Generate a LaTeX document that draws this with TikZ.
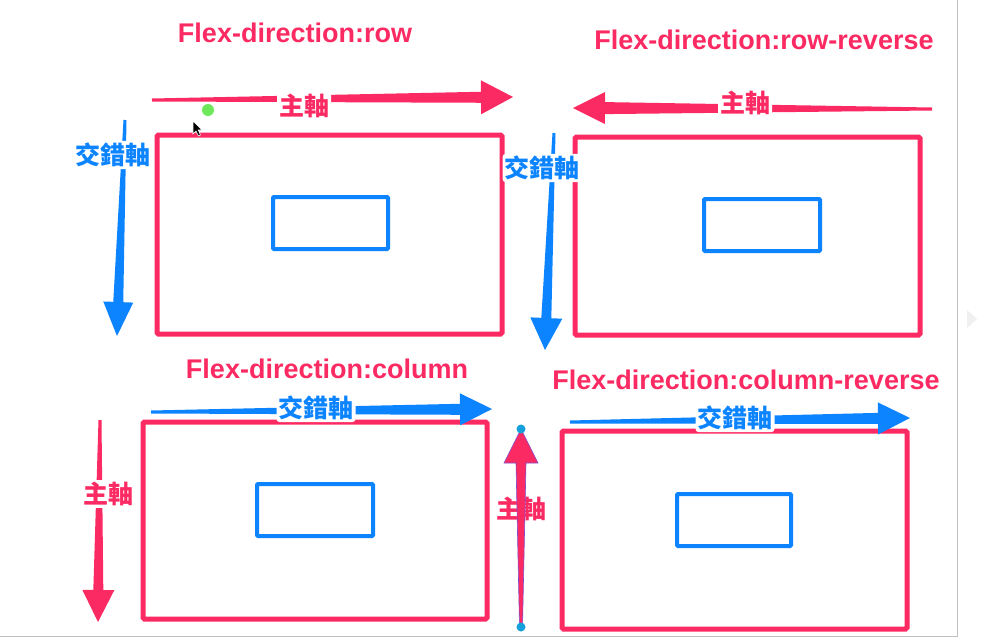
\documentclass[tikz,border=0pt]{standalone}
\usepackage{fontspec}
\setmainfont{Liberation Sans}
\newfontfamily\cjkfont{Noto Sans CJK TC}
\usetikzlibrary{calc}
\definecolor{axred}{RGB}{252,42,98}
\definecolor{axblue}{RGB}{12,132,255}
\definecolor{dotgreen}{RGB}{110,232,90}
\definecolor{dotcyan}{RGB}{20,160,220}
\tikzset{
  outerbox/.style={draw=axred, line width=5pt, rounded corners=1.5pt},
  innerbox/.style={draw=axblue, line width=4pt, rounded corners=1pt},
  ttl/.style={font=\fontsize{27}{30}\selectfont\bfseries, inner sep=0pt, text=axred},
  lab/.style={font=\fontsize{25}{28}\selectfont\cjkfont\bfseries, inner sep=2pt,
    fill=white, rounded corners=3pt},
  mainlab/.style={lab, text=axred},
  crosslab/.style={lab, text=axblue},
  redarrow/.style={fill=axred},
  bluearrow/.style={fill=axblue},
}
% #1 style, #2 tail, #3 tip, #4 tail half width, #5 shaft half width, #6 head half width, #7 head length
\newcommand\taper[7]{%
  \coordinate (hb) at ($(#3)!#7pt!(#2)$);
  \path[#1] ($(#2)!#4pt!90:(#3)$) -- ($(hb)!#5pt!90:(#3)$) -- ($(hb)!#6pt!90:(#3)$)
    -- (#3) -- ($(hb)!#6pt!-90:(#3)$) -- ($(hb)!#5pt!-90:(#3)$) -- ($(#2)!#4pt!-90:(#3)$) -- cycle;
}
\begin{document}
\begin{tikzpicture}[x=1pt,y=-1pt]
\useasboundingbox (0,0) rectangle (994,638);
\fill[white] (0,0) rectangle (994,638);
% window frame remnants
\draw[black!25, line width=1pt] (957,0) -- (957,636) -- (0,636);
\fill[black!6] (967,310) -- (977,319) -- (967,328) -- cycle;

% ---------- boxes ----------
\draw[outerbox] (157,135) rectangle (502,334);
\draw[innerbox] (273,197) rectangle (388,249);
\draw[outerbox] (575,137) rectangle (920,335);
\draw[innerbox] (704,199) rectangle (820,251);
\draw[outerbox] (143,422) rectangle (487,619);
\draw[innerbox] (257,484) rectangle (373,536);
\draw[outerbox] (562,431) rectangle (907,629);
\draw[innerbox] (677,494) rectangle (791,546);

% label that lies behind its arrow
\node[mainlab] (mBR) at (521,509) {主軸};

% ---------- arrow end points ----------
\coordinate (tlRtail) at (152,100);  \coordinate (tlRtip) at (513,97);
\coordinate (tlBtail) at (125,120);  \coordinate (tlBtip) at (117,336);
\coordinate (trRtail) at (932,109);  \coordinate (trRtip) at (573,108);
\coordinate (trBtail) at (554,133);  \coordinate (trBtip) at (545,350);
\coordinate (blBtail) at (151,412);  \coordinate (blBtip) at (492,409);
\coordinate (blRtail) at (100,420);  \coordinate (blRtip) at (98,622);
\coordinate (brBtail) at (570,422);  \coordinate (brBtip) at (910,418);
\coordinate (brRtail) at (521,627);  \coordinate (brRtip) at (521,429);

\taper{redarrow}{tlRtail}{tlRtip}{1.5}{5.5}{17}{32}
\taper{bluearrow}{tlBtail}{tlBtip}{1.5}{5}{15}{34}
\taper{redarrow}{trRtail}{trRtip}{1.5}{6}{16}{32}
\taper{bluearrow}{trBtail}{trBtip}{1.5}{5}{16}{32}
\taper{bluearrow}{blBtail}{blBtip}{1.5}{5.5}{16}{32}
\taper{redarrow}{blRtail}{blRtip}{1.5}{5}{16}{32}
\taper{bluearrow}{brBtail}{brBtip}{1.5}{5.5}{16}{32}
\taper{redarrow,draw=violet!55!blue!70,line width=0.6pt}{brRtail}{brRtip}{1.5}{5}{17}{34}
\fill[dotcyan] (brRtail) circle (4.5);
\fill[dotcyan] (brRtip) circle (4.5);

% green dot and pointer
\fill[dotgreen] (208,110) circle (6);
\filldraw[fill=black, draw=white, line width=0.6pt]
  (193,121) -- (193,134) -- (196,131) -- (198.5,136) -- (200.5,135) -- (198.2,130) -- (202,130) -- cycle;

% ---------- titles ----------
\node[ttl] (tTL) at (295,33)  {Flex-direction:row};
\node[ttl] (tTR) at (764,40)  {Flex-direction:row-reverse};
\node[ttl] (tBL) at (327,369) {Flex-direction:column};
\node[ttl] (tBR) at (746,380) {Flex-direction:column-reverse};

% ---------- axis labels ----------
\node[mainlab]  (mTL) at (304,106) {主軸};
\node[crosslab] (cTL) at (113,155) {交錯軸};
\node[mainlab]  (mTR) at (745,103) {主軸};
\node[crosslab] (cTR) at (542,168) {交錯軸};
\node[crosslab] (cBL) at (316,408) {交錯軸};
\node[mainlab]  (mBL) at (108,494) {主軸};
\node[crosslab] (cBR) at (735,418) {交錯軸};
\end{tikzpicture}
\end{document}
